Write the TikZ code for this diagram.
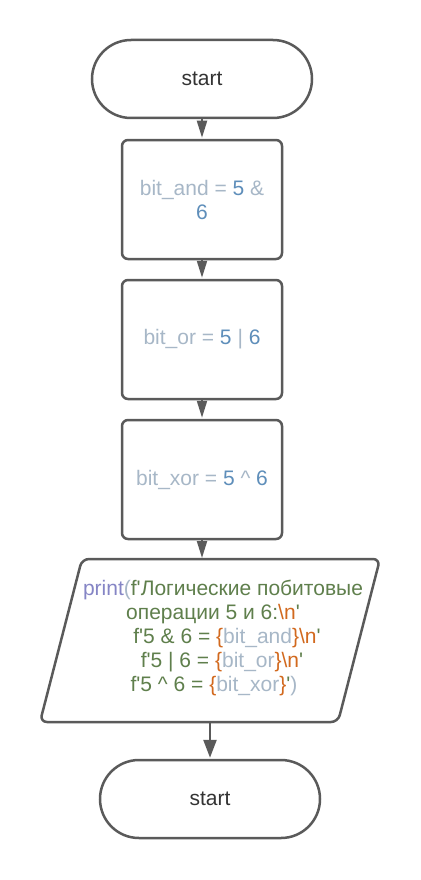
\documentclass[tikz,border=0pt]{standalone}
\usepackage{fontspec}
\setmainfont{Liberation Sans}
\usetikzlibrary{arrows.meta}
\definecolor{edgec}{HTML}{5A5A5A}
\definecolor{textc}{HTML}{333333}
\definecolor{varc}{HTML}{A7B7C7}
\definecolor{numc}{HTML}{5E8EBA}
\definecolor{strc}{HTML}{5F7F4C}
\definecolor{fnc}{HTML}{8585C5}
\definecolor{escc}{HTML}{D2691E}
\newcommand\sq{\textquotesingle}
\newcommand\bsn{\textbackslash n}
\newcommand\padl[1]{\rule{#1}{0pt}}
\begin{document}
\begin{tikzpicture}[x=1pt,y=-1pt,
  font=\fontsize{21}{24}\selectfont,
  term/.style={draw=edgec, line width=2.5pt, rounded corners=39pt,
    minimum width=220pt, minimum height=78pt, fill=white, text=textc},
  proc/.style={draw=edgec, line width=2.5pt, rounded corners=6pt,
    minimum width=160pt, minimum height=119pt, fill=white, align=center, text=varc},
  conn/.style={draw=edgec, line width=2pt, -{Triangle[width=10pt,length=17pt]}, fill=edgec, shorten >=1pt},
  connlong/.style={draw=edgec, line width=2.5pt, -{Triangle[width=13pt,length=18pt]}, fill=edgec, shorten >=1pt}]
\useasboundingbox (0,0) rectangle (420,880);
\fill[white] (0,0) rectangle (420,880);

\node[term] (start) at (202,79) {start};
\node[proc] (b1) at (202,199.5) {bit\_and = {\color{numc}5} \&\\{\color{numc}6}};
\node[proc] (b2) at (202,339.5) {bit\_or = {\color{numc}5} | {\color{numc}6}};
\node[proc] (b3) at (202,479.5) {bit\_xor = {\color{numc}5} \textasciicircum{} {\color{numc}6}};

\coordinate (ptop) at (202,559);
\coordinate (pbot) at (210,722);
\draw[draw=edgec, line width=2.5pt, rounded corners=7pt, fill=white]
  (82,559) -- (380,559) -- (338,722) -- (40,722) -- cycle;
\node[align=center, text=strc] (io) at (218,638) {%
  \padl{10pt}{\color{fnc}print}{\color{varc}(}f\sq Логические побитовые\\
  операции 5 и 6:{\color{escc}\bsn}\sq\padl{10pt}\\
  \padl{18pt}f\sq 5 \& 6 = {\color{escc}\{}{\color{varc}bit\_and}{\color{escc}\}\bsn}\sq\\
  \padl{8pt}f\sq 5 | 6 = {\color{escc}\{}{\color{varc}bit\_or}{\color{escc}\}\bsn}\sq\\
  f\sq 5 \textasciicircum{} 6 = {\color{escc}\{}{\color{varc}bit\_xor}{\color{escc}\}}\sq{\color{varc})}\padl{8pt}};

\node[term] (end) at (210,799) {start};

\draw[conn] (start.south) -- (b1.north);
\draw[conn] (b1.south) -- (b2.north);
\draw[conn] (b2.south) -- (b3.north);
\draw[conn] (b3.south) -- (ptop);
\draw[connlong] (pbot) -- (end.north);
\end{tikzpicture}
\end{document}
